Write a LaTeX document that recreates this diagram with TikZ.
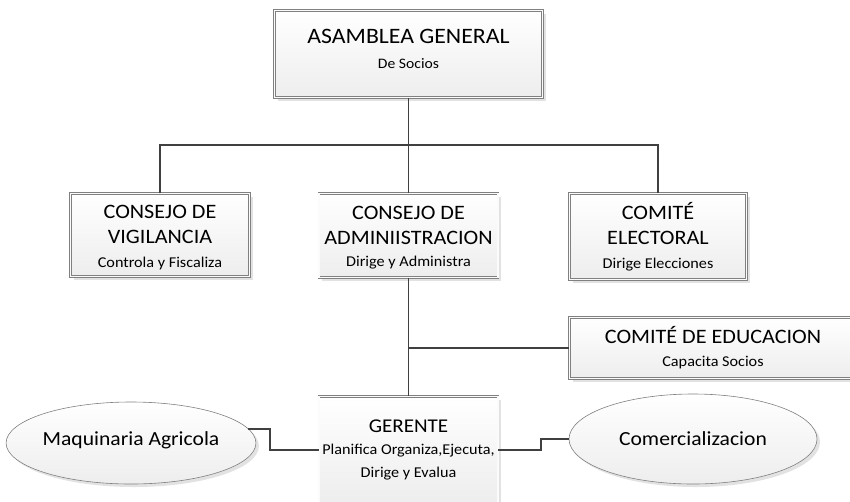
\documentclass[tikz,border=0pt]{standalone}
\usepackage{fontspec}
\setmainfont{Carlito}[FakeStretch=1.08]
\usetikzlibrary{shapes.geometric,shadows}
\definecolor{borde}{HTML}{808080}
\definecolor{trazo}{HTML}{404040}
\newcommand{\titulo}{\fontsize{20.5}{25}\selectfont}
\newcommand{\detalle}{\fontsize{15}{25}\selectfont}
\begin{document}
\begin{tikzpicture}[x=1pt,y=-1pt,
    caja/.style={draw=borde, line width=0.5pt, double=gray!3, double distance=1.8pt,
        top color=white, bottom color=gray!14,
        drop shadow={shadow xshift=3pt,shadow yshift=-3pt,fill=gray!50,opacity=0.45},
        align=center, inner sep=0pt, font=\fontsize{15}{25}\selectfont},
    ovalo/.style={ellipse, draw=borde, line width=0.6pt,
        top color=white, bottom color=gray!14,
        drop shadow={shadow xshift=3pt,shadow yshift=-3pt,fill=gray!50,opacity=0.45},
        inner sep=0pt, font=\fontsize{20}{24}\selectfont},
    linea/.style={draw=trazo, line width=1.9pt}]
    \useasboundingbox (0,0) rectangle (850,501);

    % cajas
    \node[caja, minimum width=268pt, minimum height=87pt] (asamblea) at (408.5,54)
        {{\fontsize{22}{28}\selectfont ASAMBLEA GENERAL}\\{\fontsize{14.5}{28}\selectfont De Socios\rule[-10pt]{0pt}{10pt}}};
    \node[caja, minimum width=179pt, minimum height=83pt] (vigilancia) at (160,235)
        {{\titulo\rule{0pt}{18pt}CONSEJO DE}\\{\titulo VIGILANCIA}\\[-1pt]{\detalle Controla y Fiscaliza}};
    \node[caja, minimum width=179pt, minimum height=84pt] (administracion) at (408.5,235.5)
        {{\titulo\vphantom{É}CONSEJO DE}\\{\titulo ADMINIISTRACION}\\[-3pt]{\detalle Dirige y Administra}};
    \node[caja, minimum width=177pt, minimum height=86pt] (electoral) at (658,236.5)
        {{\titulo COMITÉ}\\{\titulo ELECTORAL}\\[-1pt]{\detalle Dirige Elecciones}};
    \node[caja, minimum width=287pt, minimum height=61pt] (educacion) at (713,348)
        {{\titulo COMITÉ DE EDUCACION}\\[-2pt]{\detalle Capacita Socios}};
    \node[caja, minimum width=179pt, minimum height=107pt] (gerente) at (408.5,450)
        {{\fontsize{19.5}{24}\selectfont GERENTE}\\[-3pt]{\detalle Planifica Organiza,Ejecuta,}\\[-2pt]{\detalle Dirige y Evalua}};

    % ovalos
    \node[ovalo, minimum width=238pt, minimum height=82pt, text height=14pt, text depth=10pt] (maquinaria) at (131,443) {Maquinaria Agricola};
    \node[ovalo, minimum width=248pt, minimum height=90pt] (comercial) at (693,439) {Comercializacion};

    % conectores
    \coordinate (nodo) at (408.5,145);
    \draw[linea] (asamblea.south) -- (nodo);
    \draw[linea] (vigilancia.north) |- (nodo) -| (electoral.north);
    \draw[linea] (nodo) -- (administracion.north);
    \draw[linea] (administracion.south) -- (gerente.north);
    \draw[linea] (administracion.south |- educacion.west) -- (educacion.west);
    \draw[linea] (maquinaria.7) -- ++(22,0) |- (gerente.west);
    \draw[linea] (gerente.east) -- ++(43,0) |- (comercial.west);

\end{tikzpicture}
\end{document}
